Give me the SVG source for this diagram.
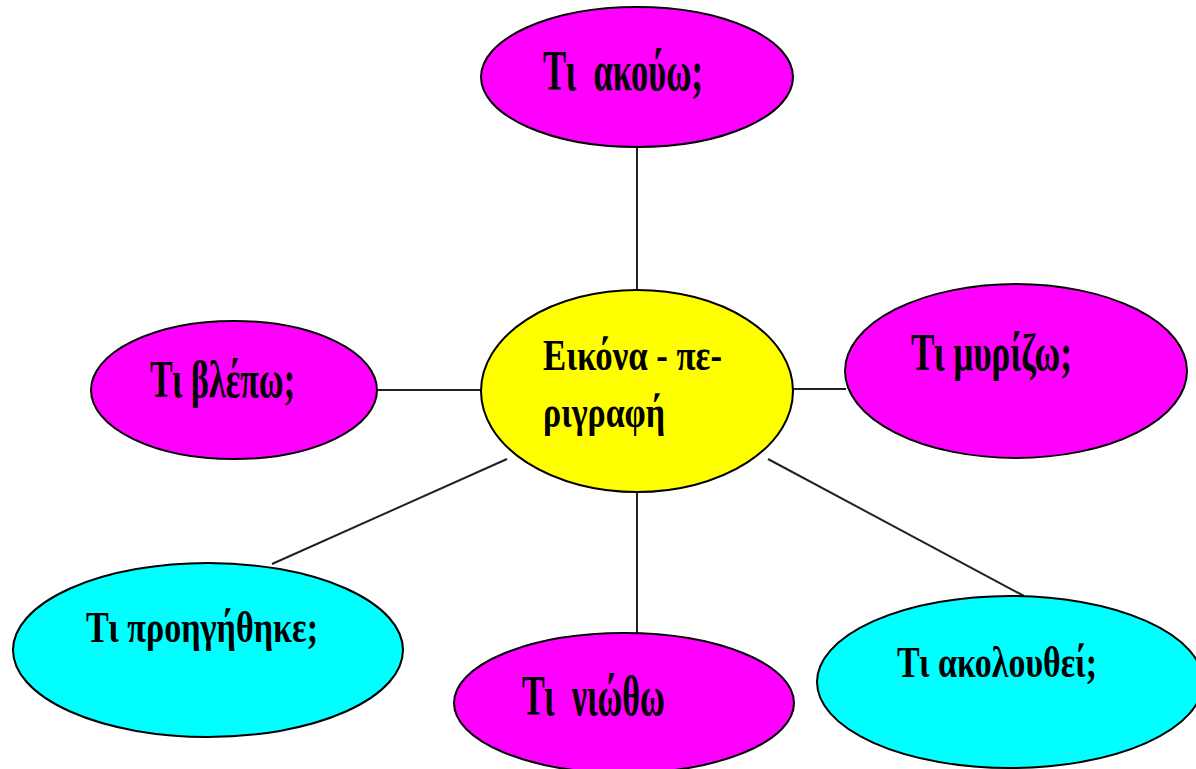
<svg xmlns="http://www.w3.org/2000/svg" width="1196" height="769" viewBox="0 0 1196 769">
<style>
.n{stroke:#000;stroke-width:2}
.m{fill:#FF00FF}
.c{fill:#00FFFF}
.y{fill:#FFFF00}
.t{font-family:"Liberation Serif","Times New Roman",serif;font-weight:bold;fill:#000;white-space:pre}
.l{stroke:#222;stroke-width:2;fill:none}
</style>
<rect width="1196" height="769" fill="#fff"/>
<g id="connectors">
<line class="l" x1="637" y1="147" x2="637" y2="291"/>
<line class="l" x1="377" y1="390" x2="482" y2="390"/>
<line class="l" x1="793" y1="389" x2="846" y2="389"/>
<line class="l" x1="507" y1="459" x2="272" y2="564"/>
<line class="l" x1="637" y1="492" x2="637" y2="633"/>
<line class="l" x1="768" y1="459" x2="1024" y2="596"/>
</g>
<g id="center">
<ellipse class="n y" cx="637" cy="391" rx="156" ry="101"/>
<text class="t" x="543" y="370" font-size="45" textLength="179" lengthAdjust="spacingAndGlyphs">Εικόνα - πε-</text>
<text class="t" x="543" y="427" font-size="45" textLength="122" lengthAdjust="spacingAndGlyphs">ριγραφή</text>
</g>
<g id="akouo">
<ellipse class="n m" cx="637" cy="77" rx="156" ry="70"/>
<text class="t" x="543" y="90" font-size="57" textLength="160" lengthAdjust="spacingAndGlyphs" xml:space="preserve">Τι  ακούω;</text>
</g>
<g id="vlepo">
<ellipse class="n m" cx="234" cy="390" rx="143" ry="69"/>
<text class="t" x="150" y="397" font-size="52" textLength="145" lengthAdjust="spacingAndGlyphs">Τι βλέπω;</text>
</g>
<g id="myrizo">
<ellipse class="n m" cx="1016" cy="371" rx="171" ry="87"/>
<text class="t" x="911" y="370" font-size="53" textLength="161" lengthAdjust="spacingAndGlyphs">Τι μυρίζω;</text>
</g>
<g id="proigithike">
<ellipse class="n c" cx="208" cy="650" rx="195" ry="87"/>
<text class="t" x="86" y="642" font-size="45" textLength="232" lengthAdjust="spacingAndGlyphs">Τι προηγήθηκε;</text>
</g>
<g id="niotho">
<ellipse class="n m" cx="624" cy="703" rx="170" ry="70"/>
<text class="t" x="522" y="715" font-size="57" textLength="143" lengthAdjust="spacingAndGlyphs" xml:space="preserve">Τι  νιώθω</text>
</g>
<g id="akolouthei">
<ellipse class="n c" cx="1010" cy="682" rx="193" ry="86"/>
<text class="t" x="897" y="677" font-size="45" textLength="200" lengthAdjust="spacingAndGlyphs">Τι ακολουθεί;</text>
</g>
</svg>
